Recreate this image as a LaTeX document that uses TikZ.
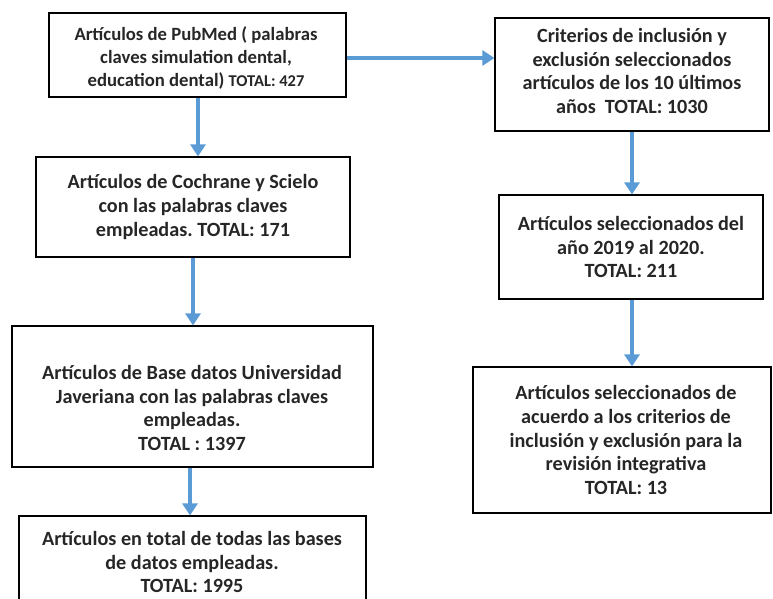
\documentclass[tikz,border=0pt]{standalone}
\usepackage{fontspec}
\setmainfont{Carlito}
\usetikzlibrary{arrows.meta}
\definecolor{arrowblue}{HTML}{5B9BD5}
\frenchspacing
\tikzset{
  boxshape/.style={draw=black, line width=1.1pt, rectangle, inner sep=0pt},
  txt/.style={align=center, font=\fontsize{20.2}{23.7}\selectfont\bfseries, text=black!85, inner sep=0pt},
  flow/.style={draw=arrowblue, line width=4pt, -{Triangle[width=15pt,length=12pt]}}
}
\begin{document}
\begin{tikzpicture}[x=1pt,y=-1pt]
\clip (0,0) rectangle (773,599);
% boxes
\node[boxshape, minimum width=297pt, minimum height=84pt] (b1) at (197.5,55) {};
\node[boxshape, minimum width=274pt, minimum height=113pt] (b2) at (632,74.5) {};
\node[boxshape, minimum width=314pt, minimum height=100pt] (b3) at (193,207) {};
\node[boxshape, minimum width=361pt, minimum height=141pt] (b4) at (192.5,396.5) {};
\node[boxshape, minimum width=347pt, minimum height=100pt] (b5) at (192.5,566) {};
\node[boxshape, minimum width=264pt, minimum height=104pt] (b6) at (631,247) {};
\node[boxshape, minimum width=298pt, minimum height=146pt] (b7) at (622,440) {};
% texts
\node[txt, font=\fontsize{18.7}{22.6}\selectfont\bfseries] (t1) at (196,58) {Artículos de PubMed ( palabras\\claves simulation dental,\\education dental) {\fontsize{16.5}{22.6}\selectfont TOTAL: 427}};
\node[txt] (t2) at (632,71) {Criterios de inclusión y\\exclusión seleccionados\\artículos de los 10 últimos\\años\ \ TOTAL: 1030};
\node[txt] (t3) at (193,207) {Artículos de Cochrane y Scielo\\con las palabras claves\\empleadas. TOTAL: 171};
\node[txt] (t4) at (192,408) {Artículos de Base datos Universidad\\Javeriana con las palabras claves\\empleadas.\\TOTAL : 1397};
\node[txt] (t5) at (192,562) {Artículos en total de todas las bases\\de datos empleadas.\\TOTAL: 1995};
\node[txt] (t6) at (631,247) {Artículos seleccionados del\\año 2019 al 2020.\\TOTAL: 211};
\node[txt] (t7) at (626,440) {Artículos seleccionados de\\acuerdo a los criterios de\\inclusión y exclusión para la\\revisión integrativa\\TOTAL: 13};
% arrows
\draw[flow] (b1.east |- 0,58) -- (b2.west |- 0,58);
\draw[flow] ([xshift=0.5pt]b1.south) -- ([xshift=0.5pt]b1.south |- b3.north);
\draw[flow] (b3.south) -- (b3.south |- b4.north);
\draw[flow] ([xshift=-2.5pt]b4.south) -- ([xshift=-2.5pt]b4.south |- b5.north);
\draw[flow] (b2.south) -- (b2.south |- b6.north);
\draw[flow] ([xshift=1pt]b6.south) -- ([xshift=1pt]b6.south |- b7.north);
\end{tikzpicture}
\end{document}
